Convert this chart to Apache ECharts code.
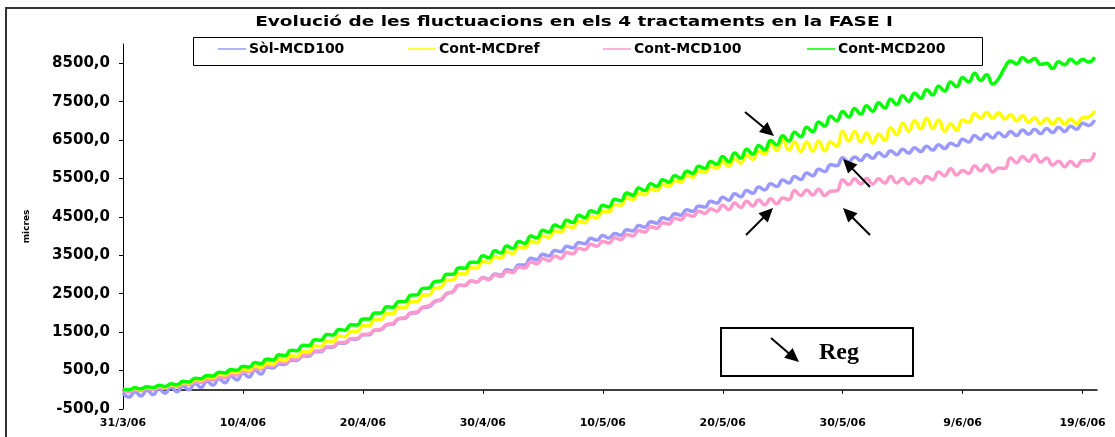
<!DOCTYPE html>
<html><head><meta charset="utf-8">
<script src="https://cdn.jsdelivr.net/npm/echarts@6/dist/echarts.min.js"></script>
<style>html,body{margin:0;padding:0;background:#fff}#c{width:1115px;height:437px}</style>
</head><body><div id="c"></div>
<script>
// ---- data ----
const chartTitle = 'Evolució de les fluctuacions en els 4 tractaments en la FASE I';
const seriesNames = ['Sòl-MCD100', 'Cont-MCDref', 'Cont-MCD100', 'Cont-MCD200'];
const yAxisName = 'micres';
const xTickDays = [0, 10, 20, 30, 40, 50, 60, 70, 80];
const xTickLabels = ['31/3/06', '10/4/06', '20/4/06', '30/4/06', '10/5/06', '20/5/06', '30/5/06', '9/6/06', '19/6/06'];
const yTickValues = [-500, 500, 1500, 2500, 3500, 4500, 5500, 6500, 7500, 8500];
const sampleStepDays = 0.5; // one reading every half day, starting 31/3/06

const solMCD100 = [
-80,-190,-50,-160,-10,-125,25,-90,65,-50,105,0,165,60,225,120,290,185,360,255,
430,330,510,410,590,570,670,660,770,765,880,875,990,990,1110,1105,1220,1210,1320,1315,
1430,1430,1550,1560,1690,1710,1850,1860,1990,2005,2140,2160,2300,2340,2500,2550,2720,2715,2830,2810,
2925,2880,3015,2980,3125,3095,3245,3245,3425,3385,3525,3485,3625,3590,3735,3695,3835,3800,3945,3890,
4015,3950,4065,4025,4165,4130,4275,4235,4375,4335,4475,4440,4585,4545,4685,4645,4785,4755,4905,4860,
5010,4935,5100,5025,5190,5115,5280,5200,5360,5290,5460,5385,5550,5475,5640,5570,5740,5680,5860,5830,
6040,5930,6060,5970,6120,6025,6170,6075,6220,6120,6260,6160,6300,6200,6340,6240,6380,6280,6420,6350,
6520,6450,6620,6520,6660,6555,6690,6585,6720,6620,6760,6650,6780,6670,6800,6695,6830,6725,6860,6780,
6940,6880,7020];

const contMCDref = [
5,-10,40,10,65,35,100,70,135,110,185,175,265,250,335,320,405,385,465,450,
550,505,620,580,700,665,790,760,890,865,1000,990,1140,1125,1270,1255,1400,1380,1520,1515,
1670,1670,1830,1830,1990,1985,2140,2135,2290,2295,2460,2470,2640,2665,2850,2855,3020,3015,3170,3170,
3340,3305,3470,3430,3590,3555,3720,3690,3860,3830,4000,3970,4140,4100,4260,4225,4390,4350,4510,4480,
4650,4635,4820,4805,4990,4955,5120,5075,5230,5190,5350,5300,5450,5410,5570,5535,5700,5660,5820,5765,
5940,5820,6020,5905,6110,6000,6210,6135,6420,6225,6510,6240,6450,6205,6440,6215,6470,6220,6450,6345,
6720,6480,6720,6460,6680,6425,6650,6495,6820,6640,6940,6730,7000,6795,7070,6805,7020,6730,6920,6755,
7020,6965,7190,7065,7220,7075,7210,7045,7160,7005,7130,6965,7080,6930,7060,6920,7060,6915,7050,6925,
7080,7100,7260];

const contMCD100 = [
-20,-60,10,-25,40,5,70,40,110,80,150,130,210,190,270,250,330,315,400,385,
470,460,550,540,630,620,710,705,800,800,900,905,1010,1015,1120,1125,1230,1230,1330,1335,
1440,1450,1560,1580,1700,1730,1860,1880,2000,2025,2150,2185,2310,2350,2510,2555,2720,2715,2830,2805,
2915,2865,2995,2950,3085,3050,3195,3170,3325,3280,3415,3360,3485,3420,3575,3540,3685,3645,3785,3735,
3865,3820,3955,3910,4045,4005,4145,4105,4245,4205,4345,4315,4465,4425,4565,4515,4645,4590,4715,4645,
4800,4690,4860,4745,4910,4785,4940,4815,4970,4840,4990,4950,5190,5055,5200,5070,5220,5055,5170,5180,
5470,5340,5490,5355,5500,5355,5490,5380,5550,5385,5500,5355,5490,5380,5550,5470,5670,5570,5750,5590,
5710,5630,5830,5700,5850,5670,5770,5760,6030,5910,6070,5950,6110,5930,6030,5850,5950,5805,5940,5815,
5970,5960,6180];

const contMCD200 = [
5,-5,50,25,80,55,115,85,155,130,220,205,300,290,375,360,455,440,525,510,
610,590,710,675,800,775,910,890,1030,1015,1160,1150,1300,1290,1440,1425,1570,1550,1690,1685,
1840,1840,2000,2000,2160,2150,2300,2300,2460,2470,2640,2650,2820,2835,3010,3010,3170,3165,3320,3315,
3490,3435,3620,3560,3740,3680,3860,3810,4000,3955,4150,4100,4290,4230,4410,4355,4540,4480,4660,4610,
4800,4760,4960,4920,5120,5065,5250,5185,5360,5295,5470,5400,5570,5510,5690,5635,5820,5760,5940,5870,
6070,5935,6160,6030,6260,6130,6360,6245,6490,6370,6610,6475,6700,6585,6830,6720,6970,6865,7120,7000,
7240,7100,7320,7175,7390,7250,7470,7335,7560,7425,7650,7505,7720,7585,7810,7675,7900,7775,8010,7890,
8130,8010,8240,8050,8200,7960,8100,8380,8560,8480,8640,8540,8620,8470,8500,8360,8540,8460,8600,8500,
8600,8530,8660];

const seriesValues = [solMCD100, contMCDref, contMCD100, contMCD200];
const seriesColors = ['#9999FF', '#FFFF00', '#FF99CC', '#00FF00'];
const drawOrder = [0, 2, 1, 3];

// ---- chart ----
const chart = echarts.init(document.getElementById('c'), null, {renderer: 'canvas'});
const F = 'DejaVu Sans';

function arrow(x1, y1, x2, y2) {
  const dx = x2 - x1, dy = y2 - y1, L = Math.hypot(dx, dy), ux = dx / L, uy = dy / L;
  const hl = 14, hw = 6.5;
  const bx = x2 - ux * hl, by = y2 - uy * hl;
  return [
    {type: 'line', shape: {x1: x1, y1: y1, x2: bx + ux * 2, y2: by + uy * 2}, style: {stroke: '#000', lineWidth: 2}, z: 50},
    {type: 'polygon', shape: {points: [[x2, y2], [bx - uy * hw, by + ux * hw], [bx + uy * hw, by - ux * hw]]}, style: {fill: '#000'}, z: 50}
  ];
}

const legendLeft = [218, 408, 603, 807];

const option = {
  backgroundColor: '#fff',
  animation: false,
  grid: {left: 123, right: 18, top: 44, bottom: 28, containLabel: false, outerBoundsMode: 'none'},
  legend: seriesNames.map((n, i) => ({
    data: [n], left: legendLeft[i], top: 42, padding: 0, itemGap: 0,
    itemWidth: 28, itemHeight: 1.5, icon: 'rect', selectedMode: false,
    textStyle: {fontFamily: F, fontWeight: 'bold', fontSize: 14, color: '#000', padding: [0, 0, 0, -2]}
  })),
  xAxis: {
    type: 'value', min: 0, max: 81.2,
    axisLine: {onZero: true, lineStyle: {color: '#000', width: 1.5}},
    axisTick: {show: true, inside: false, length: 4, customValues: xTickDays, lineStyle: {color: '#000'}},
    axisLabel: {
      customValues: xTickDays, margin: 9,
      fontFamily: F, fontWeight: 'bold', fontSize: 11, color: '#000',
      formatter: v => xTickLabels[xTickDays.indexOf(Math.round(v))] || ''
    },
    splitLine: {show: false}
  },
  yAxis: {
    type: 'value', min: -500, max: 9000,
    name: yAxisName, nameLocation: 'middle', nameRotate: 90, nameGap: 92,
    nameTextStyle: {fontFamily: F, fontWeight: 'bold', fontSize: 9, color: '#000'},
    axisLine: {show: true, lineStyle: {color: '#000', width: 1}},
    axisTick: {show: true, length: 4, customValues: yTickValues, lineStyle: {color: '#000'}},
    axisLabel: {
      customValues: yTickValues, margin: 13, padding: [5, 0, 0, 0],
      fontFamily: F, fontWeight: 'bold', fontSize: 15, color: '#000',
      formatter: v => v.toFixed(1).replace('.', ',')
    },
    splitLine: {show: false}
  },
  series: drawOrder.map(i => ({
    name: seriesNames[i], type: 'line', smooth: 0.5, showSymbol: false, symbol: 'none',
    color: seriesColors[i],
    lineStyle: {color: seriesColors[i], width: 3.5},
    data: seriesValues[i].map((v, k) => [k * sampleStepDays, v])
  })),
  graphic: [
    {type: 'rect', shape: {x: 6, y: 8, width: 1300, height: 600}, style: {fill: 'none', stroke: '#333', lineWidth: 2}, z: 1},
    {type: 'text', x: 574, y: 22, scaleX: 1.32, style: {text: chartTitle, fontFamily: F, fontWeight: 'bold', fontSize: 14, fill: '#000', textAlign: 'center', textVerticalAlign: 'middle'}, z: 10},
    {type: 'rect', shape: {x: 193.5, y: 37.5, width: 789, height: 28}, style: {fill: 'none', stroke: '#000', lineWidth: 1}, z: 5},
    {type: 'rect', shape: {x: 721, y: 328, width: 192, height: 48}, style: {fill: '#fff', stroke: '#000', lineWidth: 2}, z: 40},
    {type: 'text', x: 819, y: 353, style: {text: 'Reg', fontFamily: 'Liberation Serif', fontWeight: 'bold', fontSize: 24, fill: '#000', textAlign: 'left', textVerticalAlign: 'middle'}, z: 51}
  ].concat(
    arrow(745, 112, 774, 136),
    arrow(870, 187, 843, 159),
    arrow(746, 235, 773, 208),
    arrow(870, 235, 843, 208),
    arrow(771, 338, 799, 362)
  )
};
chart.setOption(option);
</script>
</body></html>
